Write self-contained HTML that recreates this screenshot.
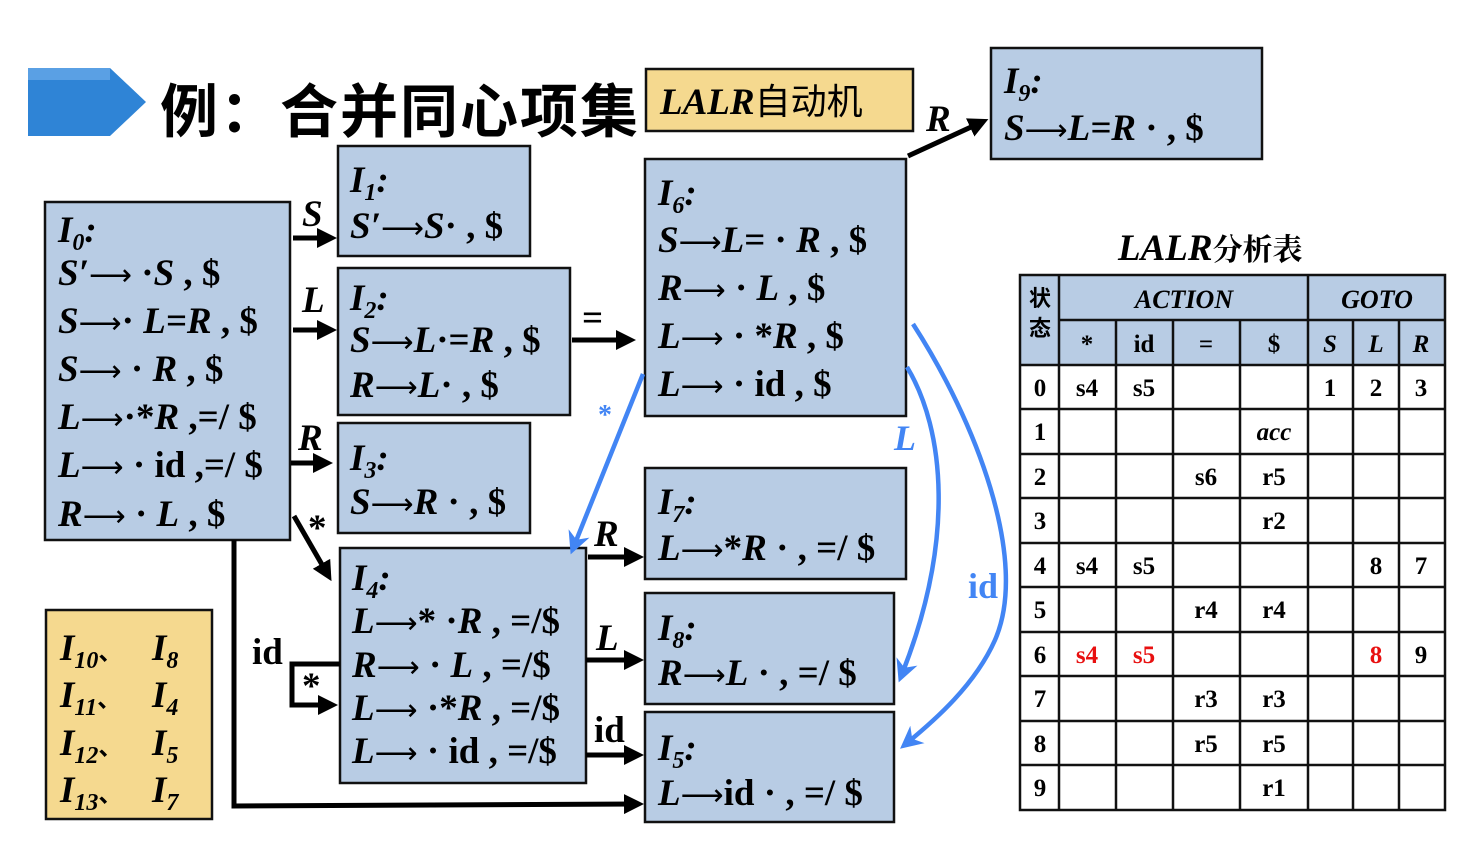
<!DOCTYPE html>
<html><head><meta charset="utf-8"><style>
html,body{margin:0;padding:0;background:#fff}
svg{display:block}
.t{font-family:"Liberation Serif","Noto Serif CJK SC",serif;font-weight:bold;font-style:italic;font-size:37px;fill:#000}
.n{font-style:normal}
.a{font-family:"DejaVu Sans",sans-serif;font-weight:normal;font-style:normal;font-size:30px}
.tb{font-family:"Liberation Serif","Noto Serif CJK SC",serif;font-weight:bold;font-size:25px;text-anchor:middle}
.bx{fill:#b8cce4;stroke:#111;stroke-width:2.5}
.yb{fill:#f5d98f;stroke:#111;stroke-width:2.5}
.ar{stroke:#000;stroke-width:5;fill:none}
.bl{stroke:#4285f4;stroke-width:4.5;fill:none}
</style></head><body>
<svg width="1480" height="844" viewBox="0 0 1480 844" xmlns="http://www.w3.org/2000/svg">
<defs>
<marker id="ah" markerWidth="4" markerHeight="4" refX="2.6" refY="2" orient="auto" markerUnits="strokeWidth"><path d="M0,0 L4,2 L0,4 Z" fill="#000"/></marker>
<marker id="bh" markerWidth="5" markerHeight="5" refX="3" refY="2.5" orient="auto" markerUnits="strokeWidth"><path d="M0,0 L5,2.5 L0,5 L1.5,2.5 Z" fill="#4285f4"/></marker>
</defs>
<!-- title -->
<polygon points="28,68 110,68 146,102 110,136 28,136" fill="#2f84d6"/>
<rect x="28" y="68" width="82" height="12" fill="#5aa0e4"/>
<text x="160" y="132" font-family="'Noto Sans CJK SC',sans-serif" font-weight="bold" font-size="58" textLength="478">例：合并同心项集</text>
<rect class="yb" x="646" y="69" width="267" height="62"/>
<text class="t" x="660" y="114" font-size="38">LALR<tspan class="n" font-family="'Noto Sans CJK SC',sans-serif" font-weight="normal" font-size="36">自动机</tspan></text>

<!-- boxes -->
<rect class="bx" x="45" y="202" width="245" height="338"/>
<rect class="bx" x="338" y="146" width="192" height="110"/>
<rect class="bx" x="338" y="268" width="232" height="147"/>
<rect class="bx" x="338" y="423" width="192" height="110"/>
<rect class="bx" x="340" y="548" width="246" height="235"/>
<rect class="bx" x="645" y="159" width="261" height="257"/>
<rect class="bx" x="991" y="48" width="271" height="111"/>
<rect class="bx" x="645" y="468" width="261" height="111"/>
<rect class="bx" x="645" y="593" width="249" height="111"/>
<rect class="bx" x="645" y="712" width="249" height="110"/>
<rect class="yb" x="46" y="610" width="166" height="209"/>

<!-- I0 -->
<text class="t" x="58" y="242">I<tspan font-size="24" dy="8">0</tspan><tspan dy="-8">:</tspan></text>
<text class="t" x="58" y="285">S′<tspan class="a">⟶</tspan><tspan class="n"> ·</tspan>S<tspan class="n"> , $</tspan></text>
<text class="t" x="58" y="333">S<tspan class="a">⟶</tspan><tspan class="n">· </tspan>L=R<tspan class="n"> , $</tspan></text>
<text class="t" x="58" y="381">S<tspan class="a">⟶</tspan><tspan class="n"> · </tspan>R<tspan class="n"> , $</tspan></text>
<text class="t" x="58" y="429">L<tspan class="a">⟶</tspan><tspan class="n">·*</tspan>R<tspan class="n"> ,=/ $</tspan></text>
<text class="t" x="58" y="477">L<tspan class="a">⟶</tspan><tspan class="n"> · id ,=/ $</tspan></text>
<text class="t" x="58" y="526">R<tspan class="a">⟶</tspan><tspan class="n"> · </tspan>L<tspan class="n"> , $</tspan></text>
<!-- I1 -->
<text class="t" x="350" y="192">I<tspan font-size="24" dy="8">1</tspan><tspan dy="-8">:</tspan></text>
<text class="t" x="350" y="238">S′<tspan class="a">⟶</tspan>S<tspan class="n">· , $</tspan></text>
<!-- I2 -->
<text class="t" x="350" y="310">I<tspan font-size="24" dy="8">2</tspan><tspan dy="-8">:</tspan></text>
<text class="t" x="350" y="352">S<tspan class="a">⟶</tspan>L<tspan class="n">·=</tspan>R<tspan class="n"> , $</tspan></text>
<text class="t" x="350" y="397">R<tspan class="a">⟶</tspan>L<tspan class="n">· , $</tspan></text>
<!-- I3 -->
<text class="t" x="350" y="470">I<tspan font-size="24" dy="8">3</tspan><tspan dy="-8">:</tspan></text>
<text class="t" x="350" y="514">S<tspan class="a">⟶</tspan>R<tspan class="n"> · , $</tspan></text>
<!-- I4 -->
<text class="t" x="352" y="590">I<tspan font-size="24" dy="8">4</tspan><tspan dy="-8">:</tspan></text>
<text class="t" x="352" y="633">L<tspan class="a">⟶</tspan><tspan class="n">* ·</tspan>R<tspan class="n"> , =/$</tspan></text>
<text class="t" x="352" y="677">R<tspan class="a">⟶</tspan><tspan class="n"> · </tspan>L<tspan class="n"> , =/$</tspan></text>
<text class="t" x="352" y="720">L<tspan class="a">⟶</tspan><tspan class="n"> ·*</tspan>R<tspan class="n"> , =/$</tspan></text>
<text class="t" x="352" y="763">L<tspan class="a">⟶</tspan><tspan class="n"> · id , =/$</tspan></text>
<!-- I6 -->
<text class="t" x="658" y="205">I<tspan font-size="24" dy="8">6</tspan><tspan dy="-8">:</tspan></text>
<text class="t" x="658" y="252">S<tspan class="a">⟶</tspan>L<tspan class="n">= · </tspan>R<tspan class="n"> , $</tspan></text>
<text class="t" x="658" y="300">R<tspan class="a">⟶</tspan><tspan class="n"> · </tspan>L<tspan class="n"> , $</tspan></text>
<text class="t" x="658" y="348">L<tspan class="a">⟶</tspan><tspan class="n"> · *</tspan>R<tspan class="n"> , $</tspan></text>
<text class="t" x="658" y="396">L<tspan class="a">⟶</tspan><tspan class="n"> · id , $</tspan></text>
<!-- I9 -->
<text class="t" x="1004" y="93">I<tspan font-size="24" dy="8">9</tspan><tspan dy="-8">:</tspan></text>
<text class="t" x="1004" y="140">S<tspan class="a">⟶</tspan>L=R<tspan class="n"> · , $</tspan></text>
<!-- I7 -->
<text class="t" x="658" y="514">I<tspan font-size="24" dy="8">7</tspan><tspan dy="-8">:</tspan></text>
<text class="t" x="658" y="560">L<tspan class="a">⟶</tspan><tspan class="n">*</tspan>R<tspan class="n"> · , =/ $</tspan></text>
<!-- I8 -->
<text class="t" x="658" y="640">I<tspan font-size="24" dy="8">8</tspan><tspan dy="-8">:</tspan></text>
<text class="t" x="658" y="685">R<tspan class="a">⟶</tspan>L<tspan class="n"> · , =/ $</tspan></text>
<!-- I5 -->
<text class="t" x="658" y="760">I<tspan font-size="24" dy="8">5</tspan><tspan dy="-8">:</tspan></text>
<text class="t" x="658" y="805">L<tspan class="a">⟶</tspan><tspan class="n">id · , =/ $</tspan></text>
<!-- yellow -->
<text class="t" x="60" y="660">I<tspan font-size="24" dy="8">10</tspan><tspan dy="-8" class="n" font-family="'Noto Sans CJK SC',sans-serif" font-size="24">、</tspan></text>
<text class="t" x="152" y="660">I<tspan font-size="24" dy="8">8</tspan></text>
<text class="t" x="60" y="707">I<tspan font-size="24" dy="8">11</tspan><tspan dy="-8" class="n" font-family="'Noto Sans CJK SC',sans-serif" font-size="24">、</tspan></text>
<text class="t" x="152" y="707">I<tspan font-size="24" dy="8">4</tspan></text>
<text class="t" x="60" y="755">I<tspan font-size="24" dy="8">12</tspan><tspan dy="-8" class="n" font-family="'Noto Sans CJK SC',sans-serif" font-size="24">、</tspan></text>
<text class="t" x="152" y="755">I<tspan font-size="24" dy="8">5</tspan></text>
<text class="t" x="60" y="802">I<tspan font-size="24" dy="8">13</tspan><tspan dy="-8" class="n" font-family="'Noto Sans CJK SC',sans-serif" font-size="24">、</tspan></text>
<text class="t" x="152" y="802">I<tspan font-size="24" dy="8">7</tspan></text>

<!-- black arrows -->
<line class="ar" x1="293" y1="238" x2="330" y2="238" marker-end="url(#ah)"/>
<text class="t" x="302" y="226">S</text>
<line class="ar" x1="293" y1="330" x2="330" y2="330" marker-end="url(#ah)"/>
<text class="t" x="302" y="312">L</text>
<line class="ar" x1="291" y1="463" x2="326" y2="463" marker-end="url(#ah)"/>
<text class="t" x="298" y="450">R</text>
<line class="ar" x1="294" y1="516" x2="328" y2="575" marker-end="url(#ah)"/>
<text class="t n" x="308" y="540" font-size="28">*</text>
<line class="ar" x1="572" y1="340" x2="629" y2="340" marker-end="url(#ah)"/>
<text class="t n" x="582" y="330" font-size="30">=</text>
<line class="ar" x1="908" y1="156" x2="982" y2="122" marker-end="url(#ah)"/>
<text class="t" x="926" y="131">R</text>
<line class="ar" x1="588" y1="557" x2="637" y2="557" marker-end="url(#ah)"/>
<text class="t" x="594" y="546">R</text>
<line class="ar" x1="586" y1="660" x2="637" y2="660" marker-end="url(#ah)"/>
<text class="t" x="596" y="650">L</text>
<line class="ar" x1="586" y1="755" x2="637" y2="755" marker-end="url(#ah)"/>
<text class="t n" x="594" y="742">id</text>
<polyline class="ar" points="234,540 234,806 637,804" marker-end="url(#ah)"/>
<polyline class="ar" points="340,664 292,664 292,705 331,705" marker-end="url(#ah)"/>
<text class="t n" x="252" y="664">id</text>
<text class="t n" x="302" y="698" font-size="28">*</text>

<!-- blue arrows -->
<path class="bl" d="M643,374 L574,546" marker-end="url(#bh)"/>
<text x="598" y="424" font-family="'Liberation Serif',serif" font-weight="bold" font-size="28" fill="#4285f4">*</text>
<path class="bl" d="M907,367 C945,430 955,540 902,674" marker-end="url(#bh)"/>
<text x="894" y="450" font-family="'Liberation Serif',serif" font-weight="bold" font-style="italic" font-size="36" fill="#4285f4">L</text>
<path class="bl" d="M913,324 C975,420 1030,560 995,640 C975,685 935,720 907,743" marker-end="url(#bh)"/>
<text x="968" y="598" font-family="'Liberation Serif',serif" font-weight="bold" font-size="36" fill="#4285f4">id</text>

<!-- table -->
<text x="1118" y="260" class="t" font-size="32">LALR<tspan class="n" font-family="'Noto Serif CJK SC','Noto Sans CJK SC',serif" font-size="30">分析表</tspan></text>
<rect x="1020" y="275" width="425" height="90" fill="#b8cce4"/>
<g stroke="#111" stroke-width="2.5" fill="none">
<rect x="1020" y="275" width="425" height="535"/>
<line x1="1059" y1="320" x2="1445" y2="320"/>
<line x1="1020" y1="365" x2="1445" y2="365"/>
<line x1="1020" y1="409" x2="1445" y2="409"/>
<line x1="1020" y1="454" x2="1445" y2="454"/>
<line x1="1020" y1="498" x2="1445" y2="498"/>
<line x1="1020" y1="543" x2="1445" y2="543"/>
<line x1="1020" y1="587" x2="1445" y2="587"/>
<line x1="1020" y1="632" x2="1445" y2="632"/>
<line x1="1020" y1="676" x2="1445" y2="676"/>
<line x1="1020" y1="721" x2="1445" y2="721"/>
<line x1="1020" y1="765" x2="1445" y2="765"/>
<line x1="1059" y1="275" x2="1059" y2="810"/>
<line x1="1116" y1="320" x2="1116" y2="810"/>
<line x1="1173" y1="320" x2="1173" y2="810"/>
<line x1="1240" y1="320" x2="1240" y2="810"/>
<line x1="1308" y1="275" x2="1308" y2="810"/>
<line x1="1353" y1="320" x2="1353" y2="810"/>
<line x1="1399" y1="320" x2="1399" y2="810"/>
</g>
<g class="tb">
<text x="1040" y="306" font-family="'Noto Sans CJK SC',sans-serif" font-size="22">状</text>
<text x="1040" y="336" font-family="'Noto Sans CJK SC',sans-serif" font-size="22">态</text>
<text x="1184" y="308" font-style="italic" font-size="26">ACTION</text>
<text x="1377" y="308" font-style="italic" font-size="26">GOTO</text>
<text x="1087" y="352">*</text><text x="1144" y="352">id</text><text x="1206" y="352">=</text><text x="1274" y="352">$</text>
<text x="1330" y="352" font-style="italic">S</text><text x="1376" y="352" font-style="italic">L</text><text x="1421" y="352" font-style="italic">R</text>
<text x="1040" y="396">0</text><text x="1087" y="396">s4</text><text x="1144" y="396">s5</text><text x="1330" y="396">1</text><text x="1376" y="396">2</text><text x="1421" y="396">3</text>
<text x="1040" y="440">1</text><text x="1274" y="440" font-style="italic">acc</text>
<text x="1040" y="485">2</text><text x="1206" y="485">s6</text><text x="1274" y="485">r5</text>
<text x="1040" y="529">3</text><text x="1274" y="529">r2</text>
<text x="1040" y="574">4</text><text x="1087" y="574">s4</text><text x="1144" y="574">s5</text><text x="1376" y="574">8</text><text x="1421" y="574">7</text>
<text x="1040" y="618">5</text><text x="1206" y="618">r4</text><text x="1274" y="618">r4</text>
<text x="1040" y="663">6</text><text x="1087" y="663" fill="#e81010">s4</text><text x="1144" y="663" fill="#e81010">s5</text><text x="1376" y="663" fill="#e81010">8</text><text x="1421" y="663">9</text>
<text x="1040" y="707">7</text><text x="1206" y="707">r3</text><text x="1274" y="707">r3</text>
<text x="1040" y="752">8</text><text x="1206" y="752">r5</text><text x="1274" y="752">r5</text>
<text x="1040" y="796">9</text><text x="1274" y="796">r1</text>
</g>
</svg>
</body></html>
